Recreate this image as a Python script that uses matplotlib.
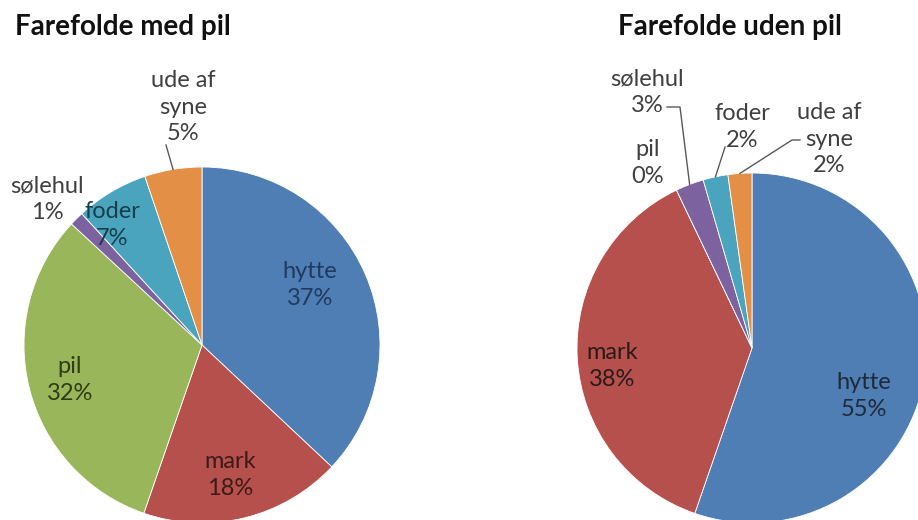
import matplotlib.pyplot as plt
import numpy as np

plt.rcParams['font.family'] = ['Lato', 'DejaVu Sans']

# data (percent shares)
categories = ["hytte", "mark", "pil", "sølehul", "foder", "ude af\nsyne"]
med_pil = [37.0, 18.3, 31.6, 1.3, 6.6, 5.2]
uden_pil = [55.3, 37.6, 0.0, 2.6, 2.3, 2.2]
titles = ["Farefolde med pil", "Farefolde uden pil"]

colors = ["#4F7EB5", "#B5504C", "#99B65B", "#7D62A0", "#4AA4BD", "#E38F46"]

# layout in pixel coordinates (y down)
W, H = 918, 520
centers = [(202, 345), (752, 348)]
radii = [178, 175]
title_pos = [(123, 27), (730, 27)]

# label text positions, and where a leader line starts (None = no line)
label_pos = [
    [(310, 285), (230, 475), (70, 380), (47, 199), (112, 225), (183, 107)],
    [(864, 396), (612, 366), (648, 163), (647, 92), (742, 127), (829, 139)],
]
leader_start = [
    [None, None, None, None, None, [(166, 145)]],
    [None, None, None, [(667, 107), (680, 107)], [(725, 147)], [(800, 140), (792, 140)]],
]
inside = [
    [True, True, True, False, True, False],
    [True, True, False, False, False, False],
]
inside_colors = [
    ["#1F3A60", "#3D1A18", "#2E3D14", None, "#163F4A", None],
    ["#1E2A3A", "#2A1A1A", None, None, None, None],
]
outside_color = "#404040"

fig = plt.figure(figsize=(W / 100, H / 100), dpi=100)
ax = fig.add_axes([0, 0, 1, 1])

for k, values in enumerate([med_pil, uden_pil]):
    cx, cy = centers[k]
    r = radii[k]
    wedges, _ = ax.pie(values, colors=colors, startangle=-90, counterclock=True,
                       center=(cx, cy), radius=r, frame=True,
                       wedgeprops=dict(edgecolor="white", linewidth=0.6))
    ax.text(title_pos[k][0], title_pos[k][1], titles[k], ha="center", va="center",
            fontsize=20, fontweight="bold", color="#111111")

    for i, w in enumerate(wedges):
        txt = "%s\n%.0f%%" % (categories[i], values[i])
        tx, ty = label_pos[k][i]
        if inside[k][i]:
            c = inside_colors[k][i]
        else:
            c = outside_color
        ax.text(tx, ty, txt, ha="center", va="center", fontsize=17,
                color=c, linespacing=1.35)
        if leader_start[k][i] is not None:
            mid = np.deg2rad((w.theta1 + w.theta2) / 2)
            ex = cx + r * np.cos(mid)
            ey = cy + r * np.sin(mid)
            pts = leader_start[k][i] + [(ex, ey)]
            xs = [p[0] for p in pts]
            ys = [p[1] for p in pts]
            ax.plot(xs, ys, color="#595959", lw=1)

ax.set_xlim(0, W)
ax.set_ylim(H, 0)
ax.axis("off")

fig.savefig("out.png", dpi=100)
